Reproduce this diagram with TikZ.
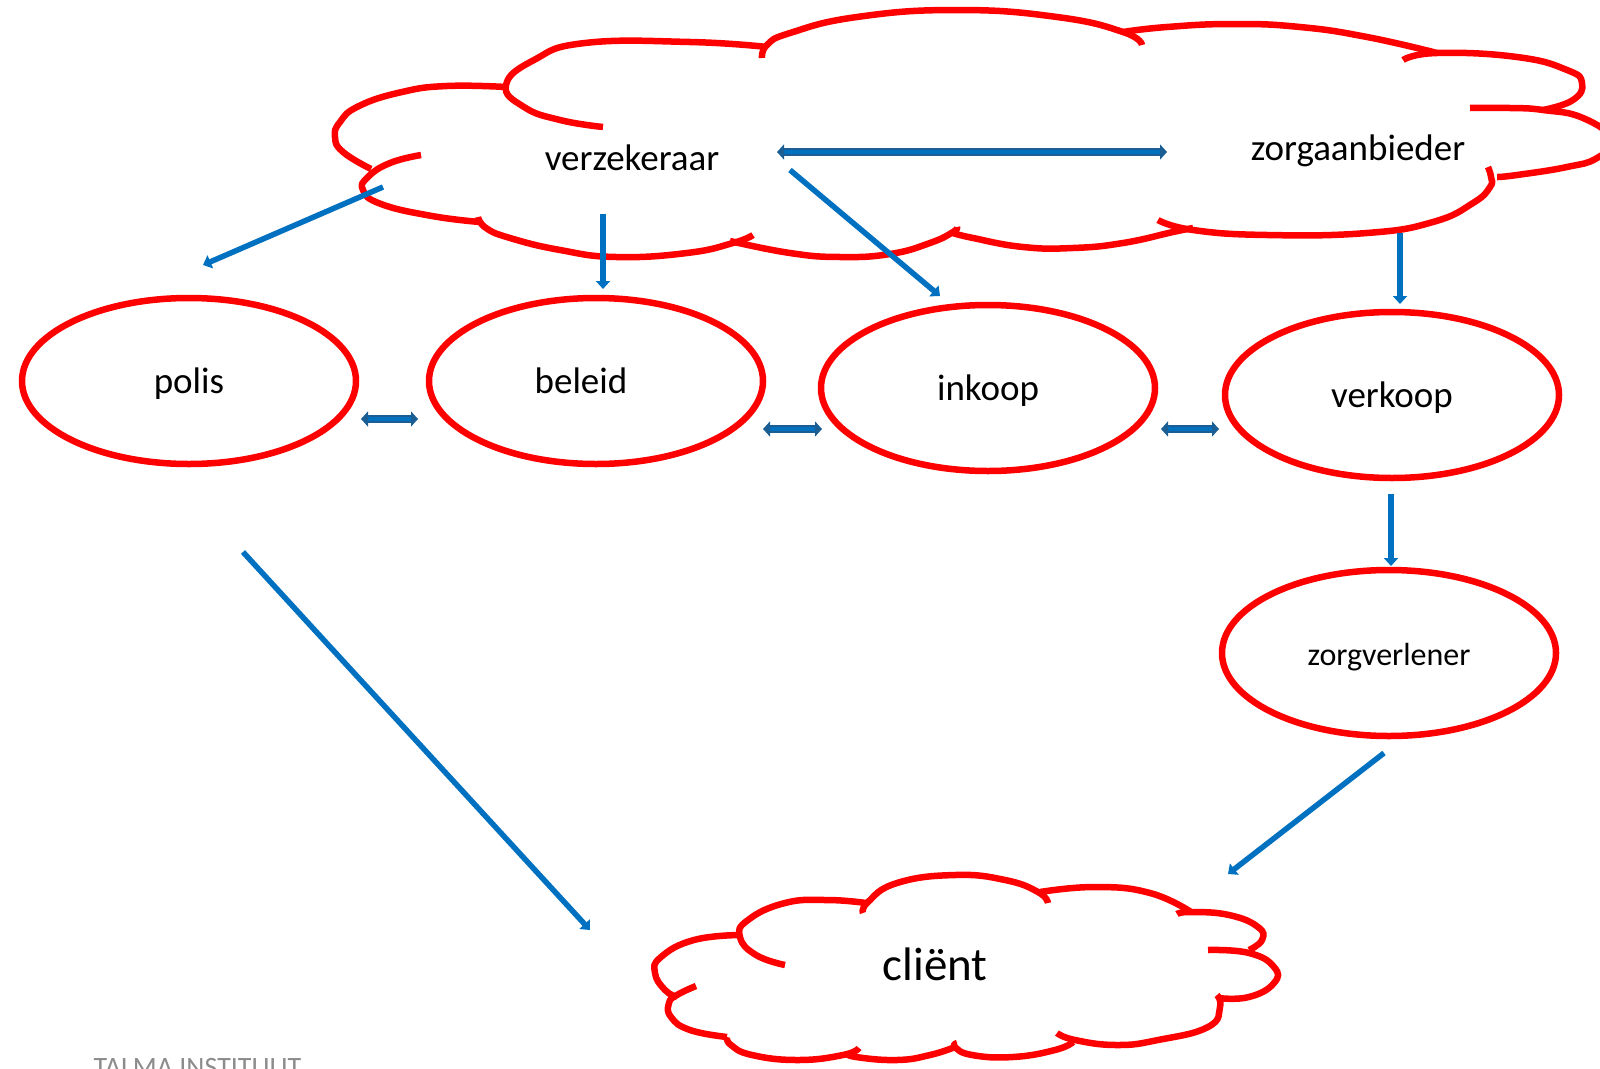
\documentclass[tikz,border=0pt]{standalone}
\usepackage{fontspec}
\setmainfont{Carlito}
\usepackage{tikz}
\usetikzlibrary{shapes.geometric,arrows.meta,calc}
\definecolor{crood}{HTML}{FF0000}
\definecolor{cblauw}{HTML}{0070C0}
\definecolor{cdonker}{HTML}{1A5E93}
\definecolor{cgrijs}{HTML}{8C8C8C}

\begin{document}
\begin{tikzpicture}[x=1pt,y=-1pt,
    bol/.style={ellipse,draw=crood,line width=6.5pt,minimum width=334pt,minimum height=166pt,inner sep=0pt,
      font=\fontsize{37}{40}\selectfont,text height=25pt,text depth=0pt},
    wolk/.style={draw=crood,line width=6.5pt,line join=round,smooth,tension=.8},
    wolktekst/.style={anchor=base,font=\fontsize{37}{40}\selectfont},
    pijl/.style={draw=cblauw,line width=5.5pt,-{Triangle[length=8pt,width=14pt]}},
    dubbelpijl/.style={draw=cdonker,line width=1.6pt,double=cblauw,double distance=4pt,
      {Triangle[length=7pt,width=15pt]}-{Triangle[length=7pt,width=15pt]}}]
    \useasboundingbox (0,0) rectangle (1600,1068);

    % grote wolk boven
    \draw[wolk] plot coordinates {(506,87) (447,86) (402,92) (359,106) (340,122) (335,137) (343,152) (371,169)};
    \draw[wolk] plot coordinates {(421,155) (390,163) (368,177) (363,190) (381,204) (432,216) (480,222)};
    \draw[wolk] plot coordinates {(478,217) (486,228) (510,238) (560,250) (616,257) (687,253) (733,243) (753,235)};
    \draw[wolk] plot coordinates {(730,241) (790,253) (840,257) (890,254) (930,243) (953,232) (957,227)};
    \draw[wolk] plot coordinates {(953,233) (973,238) (1023,247) (1073,248) (1123,243) (1173,232) (1193,228)};
    \draw[wolk] plot coordinates {(1158,220) (1193,230) (1267,235) (1367,233) (1433,222) (1473,203) (1490,187) (1491,177) (1488,167)};
    \draw[wolk] plot coordinates {(1470,108) (1510,108) (1543,110) (1583,118) (1612,140) (1597,158) (1567,167) (1517,175) (1497,177)};
    \draw[wolk] plot coordinates {(1403,60) (1437,53) (1517,57) (1567,70) (1582,83) (1573,100) (1543,110)};
    \draw[wolk] plot coordinates {(1123,32) (1167,27) (1233,24) (1300,27) (1367,37) (1437,53)};
    \draw[wolk] plot coordinates {(762,58) (767,45) (790,33) (857,17) (957,10) (1057,17) (1123,32) (1142,45)};
    \draw[wolk] plot coordinates {(767,47) (690,42) (585,43) (534,60) (506,85) (524,107) (560,120) (603,127)};

    % wolk client
    \draw[wolk] plot coordinates {(740,935) (694,940) (661,957) (655,973) (665,990) (677,997)};
    \draw[wolk] plot coordinates {(785,965) (756,955) (740,937) (748,920) (785,903) (827,900) (866,903)};
    \draw[wolk] plot coordinates {(863,913) (868,902) (897,883) (955,875) (1005,880) (1038,892) (1048,903)};
    \draw[wolk] plot coordinates {(1040,892) (1096,887) (1150,893) (1191,912)};
    \draw[wolk] plot coordinates {(1177,914) (1191,912) (1229,915) (1258,927) (1262,940) (1249,950)};
    \draw[wolk] plot coordinates {(1208,950) (1249,953) (1274,967) (1274,983) (1249,997) (1218,998)};
    \draw[wolk] plot coordinates {(1217,995) (1220,1007) (1208,1027) (1158,1040) (1117,1045) (1075,1040) (1057,1033)};
    \draw[wolk] plot coordinates {(1073,1042) (1055,1050) (1013,1057) (972,1055) (955,1047) (957,1043)};
    \draw[wolk] plot coordinates {(955,1047) (930,1055) (897,1060) (856,1057) (847,1053)};
    \draw[wolk] plot coordinates {(859,1048) (843,1055) (798,1060) (752,1055) (731,1045) (727,1037)};
    \draw[wolk] plot coordinates {(727,1037) (690,1030) (671,1017) (669,1003) (677,995) (696,986)};

    \node[wolktekst] (verz) at (632,170) {verzekeraar};
    \node[wolktekst] (zorg) at (1358,160) {zorgaanbieder};
    \node[wolktekst,font=\fontsize{47}{50}\selectfont] (client) at (935,980) {cliënt};

    \node[bol] (polis) at (189,381) {polis};
    \node[bol] (beleid) at (596,381) {beleid\kern30pt};
    \node[bol] (inkoop) at (988,388) {inkoop};
    \node[bol] (verkoop) at (1392,395) {verkoop};
    \node[bol,font=\fontsize{32}{36}\selectfont] (zv) at (1389,653) {zorgverlener};

    \draw[pijl] ($(verz.base)+(-249,17)$) -- ($(polis)+(14,-116)$);
    \draw[pijl] ($(verz.base)+(-29,44)$) -- ($(beleid)+(7,-92)$);
    \draw[pijl] ($(verz.base)+(158,0)$) -- ($(inkoop)+(-48,-92)$);
    \draw[dubbelpijl] ($(verz.base)+(145,-18)$) -- ($(zorg.base)+(-191,-8)$);
    \draw[pijl] ($(zorg.base)+(42,73)$) -- ($(verkoop)+(8,-91)$);
    \draw[pijl] ($(verkoop)+(-1,99)$) -- ($(zv)+(2,-87)$);
    \draw[pijl] ($(zv)+(-5,100)$) -- ($(client.base)+(293,-106)$);
    \draw[pijl] ($(polis)+(54,171)$) -- ($(client.base)+(-345,-50)$);

    \draw[dubbelpijl] ($(polis)+(172,38)$) -- ($(beleid)+(-178,38)$);
    \draw[dubbelpijl] ($(beleid)+(167,48)$) -- ($(inkoop)+(-166,41)$);
    \draw[dubbelpijl] ($(inkoop)+(173,41)$) -- ($(verkoop)+(-173,34)$);

    \node[anchor=base west,text=cgrijs,font=\fontsize{28}{30}\selectfont] (talma) at (90,1076) {TALMA INSTITUUT};
\end{tikzpicture}
\end{document}
